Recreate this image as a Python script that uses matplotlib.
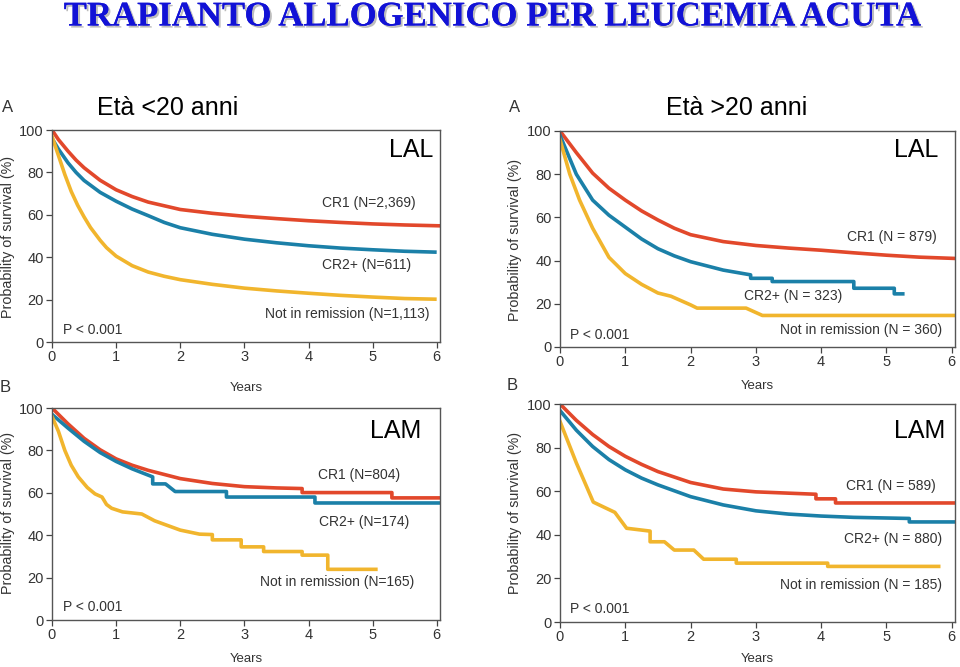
import matplotlib
matplotlib.use('Agg')
import matplotlib.pyplot as plt
import matplotlib.patheffects as pe

plt.rcParams['font.family'] = ['Liberation Sans', 'DejaVu Sans']

# Colori delle curve
RED = '#e2482b'
BLUE = '#1b80a8'
YELLOW = '#f1b52d'
TXT = '#333333'

# ===== Pannello 1: LAL, età < 20 =====
p1_cr1_x = [0, 0.1, 0.25, 0.375, 0.5, 0.75, 1, 1.25, 1.5, 2, 2.5, 3, 3.5, 4, 4.5, 5, 5.5, 6.05]
p1_cr1_y = [100, 95.5, 90, 85.8, 82.2, 76.3, 71.8, 68.6, 66, 62.5, 60.7, 59.3, 58.2, 57.2, 56.4, 55.7, 55.2, 54.8]
p1_cr2_x = [0, 0.1, 0.25, 0.375, 0.5, 0.75, 1, 1.25, 1.5, 1.75, 2, 2.5, 3, 3.5, 4, 4.5, 5, 5.5, 5.97]
p1_cr2_y = [96, 91, 84.5, 80, 76.2, 70.6, 66.4, 62.7, 59.6, 56.4, 53.9, 50.8, 48.5, 46.8, 45.4, 44.3, 43.5, 42.8, 42.4]
p1_nr_x = [0, 0.1, 0.2, 0.3, 0.4, 0.5, 0.6, 0.75, 0.85, 1, 1.25, 1.5, 1.75, 2, 2.5, 3, 3.5, 4, 4.5, 5, 5.5, 5.97]
p1_nr_y = [97, 88, 79, 71, 64.5, 59, 54, 48, 44.5, 40.5, 36, 33, 31, 29.4, 27.2, 25.4, 24.1, 23, 22, 21.2, 20.5, 20.2]

# ===== Pannello 2: LAL, età > 20 =====
p2_cr1_x = [0, 0.25, 0.5, 0.75, 1, 1.25, 1.5, 1.75, 2, 2.5, 3, 3.5, 4, 4.5, 5, 5.5, 6.05]
p2_cr1_y = [100, 90, 80.5, 73.5, 68, 63, 58.8, 55, 52, 48.8, 47, 45.8, 44.8, 43.6, 42.5, 41.6, 41]
p2_cr2_x = [0, 0.25, 0.5, 0.75, 1, 1.25, 1.5, 1.75, 2, 2.5, 2.92, 2.92, 3.25, 3.25, 4.5, 4.5,
            5.12, 5.12, 5.25]
p2_cr2_y = [98, 80, 68, 61, 55.5, 50, 45.5, 42.2, 39.5, 35.6, 33.4, 31.8, 31.8, 30.3, 30.3, 27.2,
            27.2, 24.6, 24.6]
p2_nr_x = [0, 0.15, 0.3, 0.5, 0.75, 1, 1.25, 1.5, 1.7, 2.0, 2.1, 2.85, 3.1, 6.05]
p2_nr_y = [96, 80, 68, 55, 41.5, 34, 29, 25, 23.5, 19.5, 18, 18, 14.6, 14.6]

# ===== Pannello 3: LAM, età < 20 =====
p3_cr1_x = [0, 0.25, 0.5, 0.75, 1, 1.25, 1.5, 2, 2.5, 3, 3.5, 3.9, 3.9, 5.3, 5.3, 6.05]
p3_cr1_y = [100, 92.5, 85.7, 80.3, 76, 73, 70.6, 66.7, 64.4, 62.9, 62.3, 62, 60.1, 60.1, 57.6, 57.6]
p3_cr2_x = [0, 0.25, 0.5, 0.75, 1, 1.25, 1.57, 1.57, 1.77, 1.92, 2.72, 2.72, 4.1, 4.1, 6.05]
p3_cr2_y = [97, 90.5, 84.3, 79, 74.8, 71.3, 67.5, 64.2, 64.2, 60.6, 60.6, 58, 58, 55.2, 55.2]
p3_nr_x = [0, 0.1, 0.2, 0.3, 0.41, 0.55, 0.67, 0.78, 0.85, 0.93, 1.1, 1.4, 1.6, 2, 2.3, 2.5, 2.5,
           2.95, 2.95, 3.3, 3.3, 3.9, 3.9, 4.3, 4.3, 5.05]
p3_nr_y = [96, 89, 80, 73, 67.5, 62.5, 59.5, 58, 54.5, 52.7, 51, 50, 46.8, 42.4, 40.5, 40.3, 37.8,
           37.8, 34.5, 34.5, 32.3, 32.3, 30.6, 30.6, 23.9, 23.9]

# ===== Pannello 4: LAM, età > 20 =====
p4_cr1_x = [0, 0.25, 0.5, 0.75, 1, 1.25, 1.5, 2, 2.5, 3, 3.5, 3.92, 3.92, 4.22, 4.22, 6.05]
p4_cr1_y = [100, 92.5, 86, 80.5, 76, 72.3, 69, 64, 61, 59.7, 59.1, 58.6, 56.5, 56.5, 54.6, 54.6]
p4_cr2_x = [0, 0.25, 0.5, 0.75, 1, 1.25, 1.5, 2, 2.5, 3, 3.5, 4, 4.5, 5.35, 5.35, 6.05]
p4_cr2_y = [97, 88, 80.5, 74.5, 69.8, 66, 62.9, 57.5, 53.7, 51, 49.5, 48.6, 48, 47.5, 45.9, 45.9]
p4_nr_x = [0, 0.25, 0.51, 0.65, 0.84, 1.02, 1.38, 1.38, 1.6, 1.75, 2.05, 2.2, 2.7, 2.7, 4.1, 4.1, 5.8]
p4_nr_y = [92, 73, 55, 53, 50.3, 43, 41.7, 36.8, 36.8, 33, 33, 28.8, 28.8, 27, 27, 25.5, 25.5]

ticks_x = [0, 1, 2, 3, 4, 5, 6]
ticks_y = [0, 20, 40, 60, 80, 100]

W, H = 960, 667
fig = plt.figure(figsize=(W / 100, H / 100), dpi=100)


def box(l, t, r, b):
    # coordinate in pixel -> frazioni della figura
    return [l / W, 1 - b / H, (r - l) / W, (b - t) / H]


def panel(rect, curves, labels, disease, big_pos):
    ax = fig.add_axes(box(*rect))
    for (x, y, c) in curves:
        ax.plot(x, y, color=c, lw=2.6, solid_joinstyle='round')
    ax.set_xlim(0, 6.05)
    ax.set_ylim(0, 100)
    ax.set_xticks(ticks_x)
    ax.set_yticks(ticks_y)
    ax.tick_params(direction='out', length=4, width=0.9, colors='#444444',
                   labelcolor=TXT, labelsize=10.5, pad=2)
    for s in ax.spines.values():
        s.set_color('#555555')
        s.set_linewidth(1.0)
    for (tx, ty, s, ha) in labels:
        ax.text(tx, ty, s, ha=ha, va='center', fontsize=10, color=TXT)
    ax.text(big_pos[0], big_pos[1], disease, ha='right', va='center', fontsize=18, color='black')
    return ax


panel((52, 130, 440, 342),
      [(p1_cr1_x, p1_cr1_y, RED), (p1_cr2_x, p1_cr2_y, BLUE), (p1_nr_x, p1_nr_y, YELLOW)],
      [(5.67, 65.5, 'CR1 (N=2,369)', 'right'),
       (5.6, 36.1, 'CR2+ (N=611)', 'right'),
       (5.89, 13.3, 'Not in remission (N=1,113)', 'right'),
       (0.17, 5.8, 'P < 0.001', 'left')],
      'LAL', (5.94, 90.6))

panel((560, 131, 955, 347),
      [(p2_cr1_x, p2_cr1_y, RED), (p2_cr2_x, p2_cr2_y, BLUE), (p2_nr_x, p2_nr_y, YELLOW)],
      [(5.77, 51, 'CR1 (N = 879)', 'right'),
       (4.33, 23.8, 'CR2+ (N = 323)', 'right'),
       (5.85, 8, 'Not in remission (N = 360)', 'right'),
       (0.16, 5.7, 'P < 0.001', 'left')],
      'LAL', (5.79, 91.4))

panel((52, 408, 440, 620),
      [(p3_cr1_x, p3_cr1_y, RED), (p3_cr2_x, p3_cr2_y, BLUE), (p3_nr_x, p3_nr_y, YELLOW)],
      [(5.43, 68.3, 'CR1 (N=804)', 'right'),
       (5.57, 46.3, 'CR2+ (N=174)', 'right'),
       (5.65, 17.7, 'Not in remission (N=165)', 'right'),
       (0.17, 6, 'P < 0.001', 'left')],
      'LAM', (5.76, 89))

panel((560, 404, 955, 622),
      [(p4_cr1_x, p4_cr1_y, RED), (p4_cr2_x, p4_cr2_y, BLUE), (p4_nr_x, p4_nr_y, YELLOW)],
      [(5.76, 62.6, 'CR1 (N = 589)', 'right'),
       (5.85, 38, 'CR2+ (N = 880)', 'right'),
       (5.85, 16.9, 'Not in remission (N = 185)', 'right'),
       (0.16, 6.1, 'P < 0.001', 'left')],
      'LAM', (5.9, 87.7))


def ftext(x, y, s, **kw):
    fig.text(x / W, 1 - y / H, s, **kw)


# Titolo con ombra
ftext(493, 17, 'TRAPIANTO ALLOGENICO PER LEUCEMIA ACUTA', ha='center', va='center',
      family='Liberation Serif', weight='bold', fontsize=25, color='#1212d6',
      path_effects=[pe.withSimplePatchShadow(offset=(1.5, -1.5), shadow_rgbFace='#888888', alpha=0.55),
                    pe.Normal()])

# Sottotitoli
ftext(168, 108, 'Età <20 anni', ha='center', va='center', fontsize=18)
ftext(737, 108, 'Età >20 anni', ha='center', va='center', fontsize=18)

# Lettere dei pannelli
for (x, y, s) in [(8, 108, 'A'), (515, 108, 'A'), (5, 388, 'B'), (512, 385, 'B')]:
    ftext(x, y, s, ha='center', va='center', fontsize=12, color=TXT)

# Etichette degli assi
for (x, y) in [(246, 388), (757, 386), (246, 659), (757, 659)]:
    ftext(x, y, 'Years', ha='center', va='center', fontsize=9.5, color=TXT)
for (x, y) in [(8, 237), (515, 240), (8, 513), (515, 513)]:
    ftext(x, y, 'Probability of survival (%)', ha='center', va='center', rotation=90,
          fontsize=10.3, color=TXT)

fig.savefig('out.png', dpi=100)
